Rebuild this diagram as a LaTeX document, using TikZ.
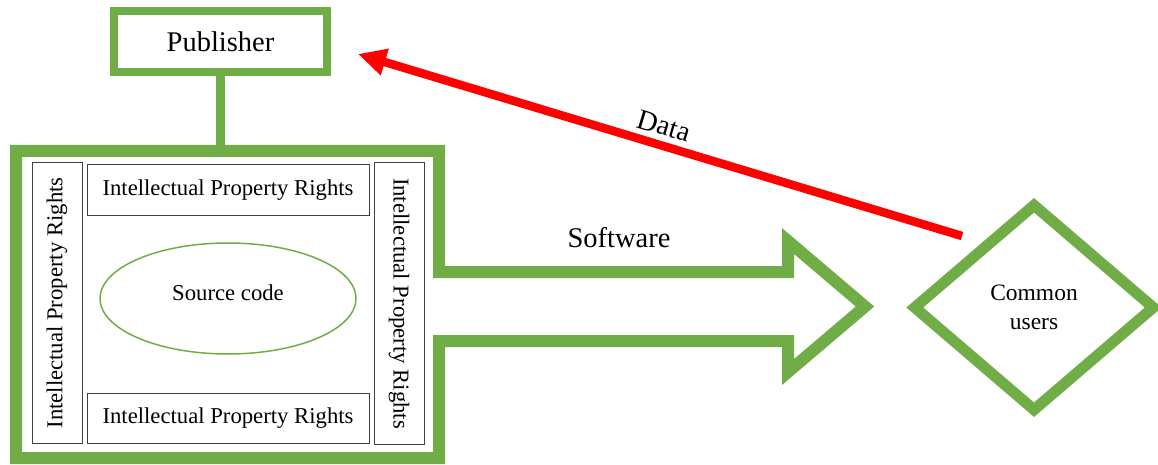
\documentclass[tikz,border=0pt]{standalone}
\usepackage{fontspec}
\setmainfont{Liberation Serif}
\usetikzlibrary{shapes.geometric,arrows.meta}
\definecolor{grn}{HTML}{70AD47}
\definecolor{rd}{HTML}{FF0000}
\definecolor{boxline}{HTML}{404040}
\begin{document}
\begin{tikzpicture}[x=1pt,y=-1pt,
  bigfont/.style={font=\fontsize{28.5pt}{34pt}\selectfont},
  midfont/.style={font=\fontsize{22.7pt}{27pt}\selectfont},
  pubbox/.style={draw=grn,line width=8.5pt,minimum width=213pt,minimum height=61pt,inner sep=0pt,bigfont},
  conn/.style={draw=grn,line width=9pt},
  container/.style={draw=grn,line width=12pt,line join=miter},
  iprbox/.style={draw=boxline,line width=1pt,inner sep=0pt,midfont},
  srcell/.style={ellipse,draw=grn,line width=1.5pt,minimum width=256pt,minimum height=111pt,inner sep=0pt},
  userdiamond/.style={diamond,draw=grn,line width=11pt,minimum width=243pt,minimum height=209pt,inner sep=0pt,align=center,font=\fontsize{23.5pt}{29pt}\selectfont},
  dataarrow/.style={draw=rd,line width=8.5pt,-{Triangle[length=28pt,width=26pt]}}
]
\useasboundingbox (0,0) rectangle (1158,465);

% container with the software arrow
\draw[container] (16,151) -- (439,151) -- (439,272) -- (788,272) -- (788,241)
  -- (865,306.5) -- (788,372) -- (788,341) -- (439,341) -- (439,458) -- (16,458) -- cycle;

% publisher
\node[pubbox] (pub) at (220.5,41.5) {Publisher};
\coordinate (contTop) at (220.5,151);
\draw[conn] (pub.south) -- (contTop);

% inner boxes
\node[iprbox,rotate=90,minimum width=280pt,minimum height=50pt] (iprL) at (57,303) {Intellectual Property Rights};
\node[iprbox,rotate=-90,minimum width=281pt,minimum height=50pt] (iprR) at (399,303.5) {Intellectual Property Rights};
\node[iprbox,minimum width=282pt,minimum height=50pt] (iprT) at (228,190) {Intellectual Property Rights};
\node[iprbox,minimum width=282pt,minimum height=50pt] (iprB) at (228,418) {Intellectual Property Rights};

% source code
\node[srcell] (src) at (228,298.5) {};
\node[midfont] (srctext) at (228,293) {Source code};

% software label
\node[bigfont] (sw) at (619,238) {Software};

% common users
\node[userdiamond] (users) at (1034,307.5) {Common\\users};

% data arrow
\coordinate (dataTail) at (962,236);
\coordinate (dataTip) at (358,54);
\draw[dataarrow] (dataTail) -- (dataTip);
\node[bigfont,rotate=-16.77] (datalbl) at (664,126) {Data};
\end{tikzpicture}
\end{document}
